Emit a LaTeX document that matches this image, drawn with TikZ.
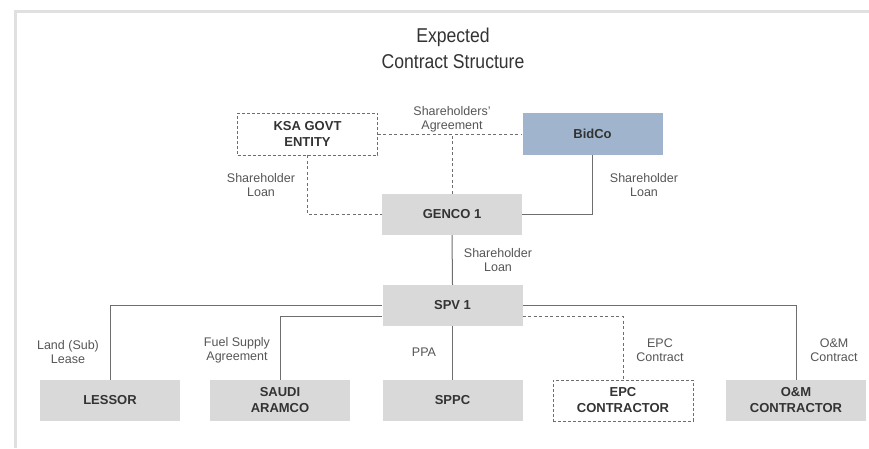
\documentclass[tikz,border=0pt]{standalone}
\usepackage{fontspec}
\setmainfont{Liberation Sans}
\newfontfamily\titlefont[FakeStretch=0.88]{Liberation Sans}
\definecolor{boxgrey}{RGB}{217,217,217}
\definecolor{bidblue}{RGB}{160,181,205}
\definecolor{txtdark}{RGB}{51,51,51}
\definecolor{lblgrey}{RGB}{85,85,85}
\definecolor{linegrey}{RGB}{110,110,110}
\definecolor{framegrey}{RGB}{224,224,224}
\tikzset{
  entity/.style={minimum width=140pt, minimum height=42pt, inner sep=0pt, align=center,
    font=\fontsize{13}{16}\selectfont\bfseries, text=txtdark},
  greybox/.style={entity, fill=boxgrey},
  bluebox/.style={entity, fill=bidblue},
  dashbox/.style={entity, draw=linegrey, dash pattern=on 3pt off 2pt, line width=0.8pt},
  lbl/.style={align=center, inner sep=0pt, font=\fontsize{12.5}{14}\selectfont, text=lblgrey},
  solidlink/.style={draw=linegrey, line width=1pt},
  dashlink/.style={draw=linegrey, line width=0.9pt, dash pattern=on 3pt off 2.5pt},
}
\begin{document}
\begin{tikzpicture}[x=1pt,y=-1pt]
\useasboundingbox (0,0) rectangle (869,448);
% frame
\draw[framegrey, line width=3pt] (15.5,448) -- (15.5,11.5) -- (869,11.5);
% title
\node[align=center, inner sep=0pt, text=txtdark, font=\titlefont\fontsize{20}{26}\selectfont] (title) at (453,48.5) {Expected\\Contract Structure};
% entities
\node[dashbox] (ksa) at (307.5,134) {KSA GOVT\\ENTITY};
\node[bluebox] (bidco) at (592.5,134) {BidCo};
\node[greybox, minimum height=41pt] (genco) at (452,214.5) {GENCO 1};
\node[greybox, minimum height=41pt] (spv) at (452.5,305.5) {SPV 1};
\node[greybox, minimum height=41pt] (lessor) at (110,400.5) {LESSOR};
\node[greybox, minimum height=41pt] (aramco) at (280,400.5) {SAUDI\\ARAMCO};
\node[greybox, minimum height=41pt] (sppc) at (452.5,400.5) {SPPC};
\node[dashbox, minimum height=41pt] (epc) at (623,400.5) {EPC\\CONTRACTOR};
\node[greybox, minimum height=41pt] (om) at (796,400.5) {O\&M\\CONTRACTOR};
% connectors
\draw[dashlink] (ksa.east) -- (bidco.west);
\draw[dashlink] (genco.north) -- (genco.north |- ksa.east);
\draw[dashlink] (ksa.south) |- (genco.west);
\draw[solidlink] (bidco.south) |- (genco.east);
\draw[solidlink] (genco.south) -- (spv.north);
\draw[solidlink] (spv.west) -| (lessor.north);
\draw[solidlink] ([yshift=-11pt]spv.west) -| (aramco.north);
\draw[solidlink] (spv.south) -- (sppc.north);
\draw[dashlink] ([yshift=-11pt]spv.east) -| (epc.north);
\draw[solidlink] (spv.east) -| (om.north);
% labels
\node[lbl] (lsa) at (452,119) {Shareholders'\\Agreement};
\node[lbl] (lsl1) at (261,185) {Shareholder\\Loan};
\node[lbl] (lsl2) at (644,185) {Shareholder\\Loan};
\node[lbl] (lsl3) at (498,260.5) {Shareholder\\Loan};
\node[lbl] (lland) at (68,352) {Land (Sub)\\Lease};
\node[lbl] (lfuel) at (237,350.5) {Fuel Supply\\Agreement};
\node[lbl] (lppa) at (424,352) {PPA};
\node[lbl] (lepc) at (660,350) {EPC\\Contract};
\node[lbl] (lom) at (834,350.5) {O\&M\\Contract};
\end{tikzpicture}
\end{document}
